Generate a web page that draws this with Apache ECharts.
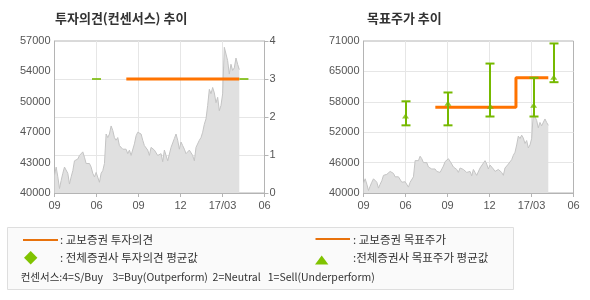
<!DOCTYPE html>
<html>
<head>
<meta charset="utf-8">
<script src="https://cdn.jsdelivr.net/npm/echarts@6/dist/echarts.min.js"></script>
<style>
html,body{margin:0;padding:0;background:#fff;}
#c{width:590px;height:300px;}
</style>
</head>
<body>
<div id="c"></div>
<script>
// ---- data ----
const xLabels = ['09', '06', '09', '12', '17/03', '06'];
const opinionLabels = ['0', '1', '2', '3', '4'];
const leftPriceLabels = ['40000', '43000', '47000', '50000', '54000', '57000'];
const rightPriceLabels = ['40000', '46000', '52000', '58000', '65000', '71000'];

// daily-ish closing prices (read from the grey area), evenly spaced from x=0 to priceEnd
const priceEnd = 4.4;
const prices = [
  42000, 42900, 41800, 40500, 41400, 42200, 42900, 42700, 42200, 41000,
  41800, 42500, 43600, 43500, 43800, 44200, 44400, 44600, 44000, 43300,
  43100, 43300, 42900, 42200, 41800, 42300, 42500, 41200, 42200, 42500,
  43300, 46600, 46200, 46600, 47500, 47000, 46200, 45900, 46200, 45300,
  45500, 44900, 44800, 44900, 44400, 44800, 44200, 44000, 45500, 46400,
  46800, 47000, 46600, 45900, 45300, 45300, 44800, 44200, 45100, 45300,
  44800, 44600, 44200, 44000, 44400, 43500, 44800, 44200, 43600, 43800,
  45100, 45300, 46100, 46600, 45900, 44900, 45700, 45300, 44900, 44400,
  44200, 44800, 44900, 44200, 43600, 45100, 45300, 45900, 46200, 46800,
  47700, 48300, 49800, 51600, 51100, 51800, 51200, 50100, 50700, 49200,
  49800, 51100, 56300, 56400, 54800, 53300, 54400, 53700, 54000, 55100,
  54400, 53800
];

// 교보증권 투자의견
const kbOpinionX = [1.71, 4.4];
const kbOpinion = [3, 3];
// 전체증권사 투자의견 평균값
const avgOpinionX = [1.0, 4.51];
const avgOpinion = [3, 3];
// 교보증권 목표주가 (step)
const kbTargetX = [1.71, 3.63, 4.4];
const kbTarget = [57500, 63500, 63500];
// 전체증권사 목표주가 (avg / low / high)
const consX = [1.0, 2.01, 3.02, 4.05, 4.53];
const consHigh = [58700, 60500, 66400, 63500, 70500];
const consLow = [53800, 53800, 55600, 55600, 62600];
const consAvg = [55700, 58300, 57700, 57900, 63600];

// ---- chart ----
const ORANGE = '#ff7300';
const GREEN = '#76b900';
const AXIS = '#b4b4b4';
const GRIDC = '#e6e6e6';
const LABEL = '#555';
const FONT = '"Liberation Sans", Arial, sans-serif';
const KFONT = '"Noto Sans CJK KR", sans-serif';

const step = priceEnd / (prices.length - 1);
const pricePts = prices.map((v, i) => [i * step, v]);

const chart = echarts.init(document.getElementById('c'), null, {renderer: 'canvas'});

function xAxisFor(g) {
  return {
    type: 'value', gridIndex: g, min: 0, max: 5, interval: 1,
    axisLine: {show: true, lineStyle: {color: AXIS}},
    axisTick: {show: true, length: 4, lineStyle: {color: AXIS}},
    axisLabel: {color: LABEL, fontSize: 11, fontFamily: FONT, margin: 7,
      formatter: v => xLabels[Math.round(v)]},
    splitLine: {show: true, showMinLine: false, showMaxLine: false, lineStyle: {color: GRIDC}}
  };
}

const option = {
  animation: false,
  grid: [
    {left: 54.5, top: 41, width: 210, height: 152, show: true, borderColor: AXIS, borderWidth: 1},
    {left: 363.5, top: 41, width: 210, height: 152, show: true, borderColor: AXIS, borderWidth: 1}
  ],
  xAxis: [xAxisFor(0), xAxisFor(1)],
  yAxis: [
    {type: 'value', gridIndex: 0, min: 40000, max: 57000, show: false, position: 'left'},
    {type: 'value', gridIndex: 0, min: 0, max: 5, interval: 1, position: 'left',
      axisLine: {show: true, lineStyle: {color: AXIS}}, axisTick: {show: false},
      splitLine: {show: false},
      axisLabel: {color: LABEL, fontSize: 11, fontFamily: FONT, margin: 4,
        formatter: v => leftPriceLabels[Math.round(v)]}},
    {type: 'value', gridIndex: 0, min: 0, max: 4, interval: 1, position: 'right',
      axisLine: {show: true, lineStyle: {color: AXIS}},
      axisTick: {show: true, length: 4, lineStyle: {color: AXIS}},
      splitLine: {show: true, showMinLine: false, showMaxLine: false, lineStyle: {color: GRIDC}},
      axisLabel: {color: LABEL, fontSize: 11, fontFamily: FONT, margin: 5,
        formatter: v => opinionLabels[Math.round(v)]}},
    {type: 'value', gridIndex: 1, min: 40000, max: 71000, show: false, position: 'right'},
    {type: 'value', gridIndex: 1, min: 0, max: 5, interval: 1, position: 'left',
      axisLine: {show: true, lineStyle: {color: AXIS}}, axisTick: {show: false},
      splitLine: {show: true, showMinLine: false, showMaxLine: false, lineStyle: {color: GRIDC}},
      axisLabel: {color: LABEL, fontSize: 11, fontFamily: FONT, margin: 4,
        formatter: v => rightPriceLabels[Math.round(v)]}}
  ],
  series: [
    {type: 'line', xAxisIndex: 0, yAxisIndex: 0, data: pricePts, symbol: 'none',
      lineStyle: {color: '#c4c4c4', width: 1}, areaStyle: {color: '#e0e0e0', opacity: 1}, z: 2},
    {type: 'line', xAxisIndex: 0, yAxisIndex: 2, data: kbOpinionX.map((x, i) => [x, kbOpinion[i]]),
      symbol: 'none', lineStyle: {color: ORANGE, width: 3}, z: 4},
    {type: 'scatter', xAxisIndex: 0, yAxisIndex: 2, data: avgOpinionX.map((x, i) => [x, avgOpinion[i]]),
      symbol: 'rect', symbolSize: [9, 2], itemStyle: {color: GREEN}, z: 5},

    {type: 'line', xAxisIndex: 1, yAxisIndex: 3, data: pricePts, symbol: 'none',
      lineStyle: {color: '#c4c4c4', width: 1}, areaStyle: {color: '#e0e0e0', opacity: 1}, z: 2},
    {type: 'line', xAxisIndex: 1, yAxisIndex: 3, data: kbTargetX.map((x, i) => [x, kbTarget[i]]),
      step: 'end', symbol: 'none', lineStyle: {color: ORANGE, width: 3}, z: 4},
    {type: 'custom', xAxisIndex: 1, yAxisIndex: 3, z: 5,
      data: consX.map((x, i) => [x, consLow[i], consHigh[i]]),
      renderItem: function (params, api) {
        const x = api.value(0);
        const lo = api.coord([x, api.value(1)]);
        const hi = api.coord([x, api.value(2)]);
        const px = Math.round(lo[0]);
        const w = 4.5;
        const st = {stroke: GREEN, lineWidth: 2};
        return {type: 'group', children: [
          {type: 'line', shape: {x1: px, y1: lo[1], x2: px, y2: hi[1]}, style: st},
          {type: 'line', shape: {x1: px - w, y1: lo[1], x2: px + w, y2: lo[1]}, style: st},
          {type: 'line', shape: {x1: px - w, y1: hi[1], x2: px + w, y2: hi[1]}, style: st}
        ]};
      }},
    {type: 'scatter', xAxisIndex: 1, yAxisIndex: 3, data: consX.map((x, i) => [x, consAvg[i]]),
      symbol: 'triangle', symbolSize: [7, 5], itemStyle: {color: GREEN}, z: 6}
  ],
  graphic: [
    {type: 'text', left: 55, top: 12, style: {text: '투자의견(컨센서스) 추이', font: 'bold 13px ' + KFONT, fill: '#333'}},
    {type: 'text', left: 367, top: 12, style: {text: '목표주가 추이', font: 'bold 13px ' + KFONT, fill: '#333'}},
    {type: 'rect', shape: {x: 7.5, y: 227.5, width: 506, height: 62}, style: {fill: '#fafafa', stroke: '#dedede', lineWidth: 1}, z: 1},
    {type: 'line', shape: {x1: 23, y1: 240, x2: 58, y2: 240}, style: {stroke: '#e8720c', lineWidth: 2}, z: 2},
    {type: 'text', x: 60, y: 240, style: {text: ': 교보증권 투자의견', font: '11.5px ' + KFONT, fill: '#333', verticalAlign: 'middle'}, z: 2},
    {type: 'polygon', shape: {points: [[30.7, 251], [37.4, 257.7], [30.7, 264.4], [24, 257.7]]}, style: {fill: '#80c300'}, z: 2},
    {type: 'text', x: 60, y: 258, style: {text: ': 전체증권사 투자의견 평균값', font: '11.5px ' + KFONT, fill: '#333', verticalAlign: 'middle'}, z: 2},
    {type: 'text', x: 20.7, y: 277, style: {text: '컨센서스:4=S/Buy    3=Buy(Outperform)  2=Neutral   1=Sell(Underperform)', font: '10.5px ' + KFONT, fill: '#333', verticalAlign: 'middle'}, z: 2},
    {type: 'line', shape: {x1: 315.5, y1: 239, x2: 350, y2: 239}, style: {stroke: '#e8720c', lineWidth: 2}, z: 2},
    {type: 'text', x: 353, y: 240, style: {text: ': 교보증권 목표주가', font: '11.5px ' + KFONT, fill: '#333', verticalAlign: 'middle'}, z: 2},
    {type: 'polygon', shape: {points: [[315, 264.5], [321.7, 255.5], [328.4, 264.5]]}, style: {fill: '#80c300'}, z: 2},
    {type: 'text', x: 353, y: 258, style: {text: ':전체증권사 목표주가 평균값', font: '11.5px ' + KFONT, fill: '#333', verticalAlign: 'middle'}, z: 2}
  ]
};
chart.setOption(option);
</script>
</body>
</html>
